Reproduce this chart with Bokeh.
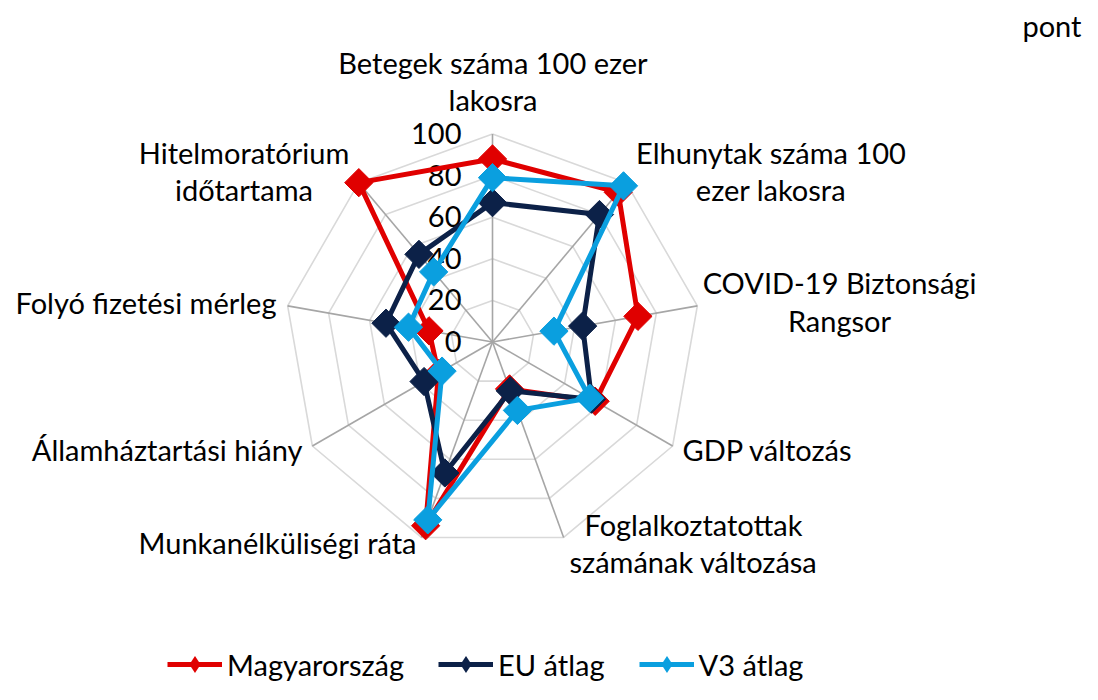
import numpy as np
from bokeh.plotting import figure
from bokeh.models import Range1d, Legend, LegendItem
from bokeh.core.properties import value
from bokeh.embed import file_html
from bokeh.resources import INLINE

# ---------------- data ----------------
categories = [
    "Betegek száma 100 ezer\nlakosra",
    "Elhunytak száma 100\nezer lakosra",
    "COVID-19 Biztonsági\nRangsor",
    "GDP változás",
    "Foglalkoztatottak\nszámának változása",
    "Munkanélküliségi ráta",
    "Államháztartási hiány",
    "Folyó fizetési mérleg",
    "Hitelmoratórium\nidőtartama",
]
magyarorszag = [88, 94, 71, 57, 24, 94, 30, 31, 100]
eu_atlag = [67, 80, 44, 55, 25, 67, 38, 52, 55]
v3_atlag = [79, 98, 30, 54, 35, 91, 28, 41, 44]
series_names = ["Magyarország", "EU átlag", "V3 átlag"]
ticks = [0, 20, 40, 60, 80, 100]
unit_label = "pont"

# ---------------- layout / style ----------------
FONT = "Lato"
FS = "29px"
W, H = 1082, 684
K = 2.08                      # px per unit
CX, CY = 492, 341.5           # centre in plot pixels
colors = ["#E00000", "#0C2148", "#0A9FDF"]
LINE_GAP = 37.3
TDY = -11                     # vertical text correction (px)

def d(rx, ry):
    return (rx - CX) / K, (CY - (ry + TDY)) / K

p = figure(width=W, height=H, output_backend="svg", toolbar_location=None,
           x_range=Range1d(-CX / K, (W - CX) / K), y_range=Range1d(-(H - CY) / K, CY / K),
           x_axis_location=None, y_axis_location=None, min_border=0,
           outline_line_color=None, background_fill_color="white", border_fill_color="white")
p.xgrid.visible = False
p.ygrid.visible = False

n = len(categories)
theta = np.deg2rad(90 - 360.0 / n * np.arange(n))
cs, sn = np.cos(theta), np.sin(theta)

# rings
for t in ticks[1:]:
    xs = list(t * cs) + [t * cs[0]]
    ys = list(t * sn) + [t * sn[0]]
    p.line(xs, ys, line_color="#D9D9D9", line_width=1.6)
# spokes
p.segment(x0=[0] * n, y0=[0] * n, x1=list(100 * cs), y1=list(100 * sn),
          line_color="#A6A6A6", line_width=1.6)

# tick labels
p.text(x=[(461 - CX) / K] * len(ticks), y=[t - (10.4 + TDY) / K for t in ticks],
       text=[str(t) for t in ticks], text_font=value(FONT), text_font_size=value(FS),
       text_align="right", text_baseline="alphabetic", text_color="black")

# series
items = []
for vals, name, col in zip([magyarorszag, eu_atlag, v3_atlag], series_names, colors):
    v = np.array(vals, dtype=float)
    xs, ys = v * cs, v * sn
    lr = p.line(list(xs) + [xs[0]], list(ys) + [ys[0]], line_color=col, line_width=5,
                line_join="round")
    p.scatter(list(xs), list(ys), marker="square", size=20, angle=np.pi / 4,
              fill_color=col, line_color=col)
    # legend marker (zero size on the chart, sized by the legend itself)
    lm = p.scatter(list(xs), list(ys), marker="diamond", size=0,
                   fill_color=col, line_color=None)
    items.append(LegendItem(label=name, renderers=[lr, lm]))

# category labels: (x, baseline of first line, align) in plot pixels
label_layout = [
    (492.5, 72.7, "center"),
    (770.5, 163.0, "center"),
    (839.0, 293.3, "center"),
    (682.0, 460.0, "left"),
    (693.0, 535.0, "center"),
    (416.0, 553.0, "right"),
    (302.0, 460.0, "right"),
    (276.0, 313.3, "right"),
    (243.5, 163.0, "center"),
]
groups = {}
for cat, (rx, ry, al) in zip(categories, label_layout):
    for i, line in enumerate(cat.split("\n")):
        x, y = d(rx, ry + i * LINE_GAP)
        g = groups.setdefault(al, ([], [], []))
        g[0].append(x); g[1].append(y); g[2].append(line)
for al, (xs, ys, txt) in groups.items():
    p.text(x=xs, y=ys, text=txt, text_font=value(FONT), text_font_size=value(FS),
           text_align=al, text_baseline="alphabetic", text_color="black")

# unit label
ux, uy = d(1081, 36)
p.text(x=[ux], y=[uy], text=[unit_label], text_font=value(FONT), text_font_size=value(FS),
       text_align="right", text_baseline="alphabetic", text_color="black")

legend = Legend(items=items, orientation="horizontal", location=(167, -1),
                glyph_width=55, glyph_height=42, label_height=42, label_standoff=5,
                spacing=34, padding=0, margin=0, border_line_color=None,
                background_fill_alpha=0, label_text_font=FONT, label_text_font_size=FS,
                label_text_color="black")
p.add_layout(legend, "center")

open("out.html", "w").write(file_html(p, INLINE))
